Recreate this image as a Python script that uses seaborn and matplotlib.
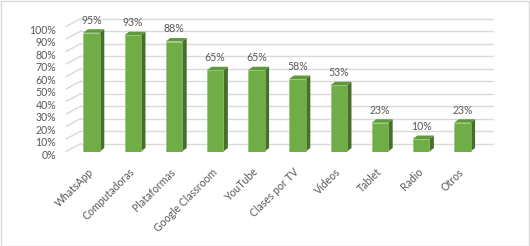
import matplotlib
matplotlib.use("Agg")
import matplotlib.pyplot as plt
import seaborn as sns
import pandas as pd
from matplotlib.patches import Polygon, Rectangle
from matplotlib.transforms import ScaledTranslation

categories = ["WhatsApp", "Computadoras", "Plataformas", "Google Classroom", "YouTube",
              "Clases por TV", "Videos", "Tablet", "Radio", "Otros"]
values = [95, 93, 88, 65, 65, 58, 53, 23, 10, 23]
yticks = [0, 10, 20, 30, 40, 50, 60, 70, 80, 90, 100]
ytick_labels = [f"{t}%" for t in yticks]

FRONT = "#70AD47"
TOP = "#5E9A3A"
SIDE = "#466E2C"
TEXT = "#595959"
GRID = "#D9D9D9"

sns.set_theme(style="white")
plt.rcParams["font.family"] = ["Lato", "DejaVu Sans"]

W, H, DPI = 530, 246, 100
fig = plt.figure(figsize=(W / DPI, H / DPI), dpi=DPI)
# axes in pixel terms: left 66, right 478, bottom(0%) at y=151.5, top(100%) at 26.5
ax = fig.add_axes([66 / W, (H - 151.5) / H, (478 - 66) / W, 125 / H])

df = pd.DataFrame({"cat": categories, "val": values})
sns.barplot(data=df, x="cat", y="val", color=FRONT, width=0.4, saturation=1,
            edgecolor="#8DC36A", linewidth=0.4, ax=ax, zorder=3)

ax.set_xlim(-0.62, 9.38)
ax.set_ylim(0, 100)
for s in ax.spines.values():
    s.set_visible(False)
ax.set_xlabel("")
ax.set_ylabel("")
ax.set_yticks(yticks)
ax.set_yticklabels(ytick_labels, fontsize=7.6, color=TEXT)
ax.tick_params(axis="y", length=0, pad=7)
ax.tick_params(axis="x", length=0, pad=13.5)
for lab in ax.get_yticklabels():
    lab.set_transform(lab.get_transform() + ScaledTranslation(0, -2 / 72, fig.dpi_scale_trans))
plt.setp(ax.get_xticklabels(), rotation=45, ha="right", va="center",
         rotation_mode="anchor", fontsize=7.6, color=TEXT)
ax.grid(False)

# pixel -> data conversion
px_x = 412 / 10.0      # pixels per x unit
px_y = 125 / 100.0     # pixels per y unit

# back wall gridlines and diagonals
wdx, wdy = 15 / px_x, 8 / px_y
x0, x1 = ax.get_xlim()
for t in yticks:
    ax.plot([x0 + wdx, x1 + wdx], [t + wdy, t + wdy], color=GRID, lw=1.0,
            clip_on=False, zorder=1)
    ax.plot([x0, x0 + wdx], [t, t + wdy], color=GRID, lw=1.0, clip_on=False, zorder=1)

# 3D faces for bars
bdx, bdy = 4.5 / px_x, 3.5 / px_y
for p, v in zip(ax.patches, values):
    bx0 = p.get_x()
    bx1 = bx0 + p.get_width()
    h = p.get_height()
    side = Polygon([(bx1, 0), (bx1 + bdx, bdy), (bx1 + bdx, h + bdy), (bx1, h)],
                   closed=True, facecolor=SIDE, edgecolor="none", zorder=2.9, clip_on=False)
    top = Polygon([(bx0, h), (bx0 + bdx, h + bdy), (bx1 + bdx, h + bdy), (bx1, h)],
                  closed=True, facecolor=TOP, edgecolor="none", zorder=2.9, clip_on=False)
    ax.add_patch(side)
    ax.add_patch(top)
    ax.text(bx0 + p.get_width() / 2, h + bdy + 3.0, f"{v}%", ha="center", va="bottom",
            fontsize=7.6, color=TEXT, zorder=4, clip_on=False)

fig.add_artist(Rectangle((0.5 / W, 0.5 / H), 1 - 1.5 / W, 1 - 1.5 / H,
                         transform=fig.transFigure, fill=False,
                         edgecolor=GRID, linewidth=1.0))

fig.savefig("out.png", dpi=DPI, facecolor="white")
